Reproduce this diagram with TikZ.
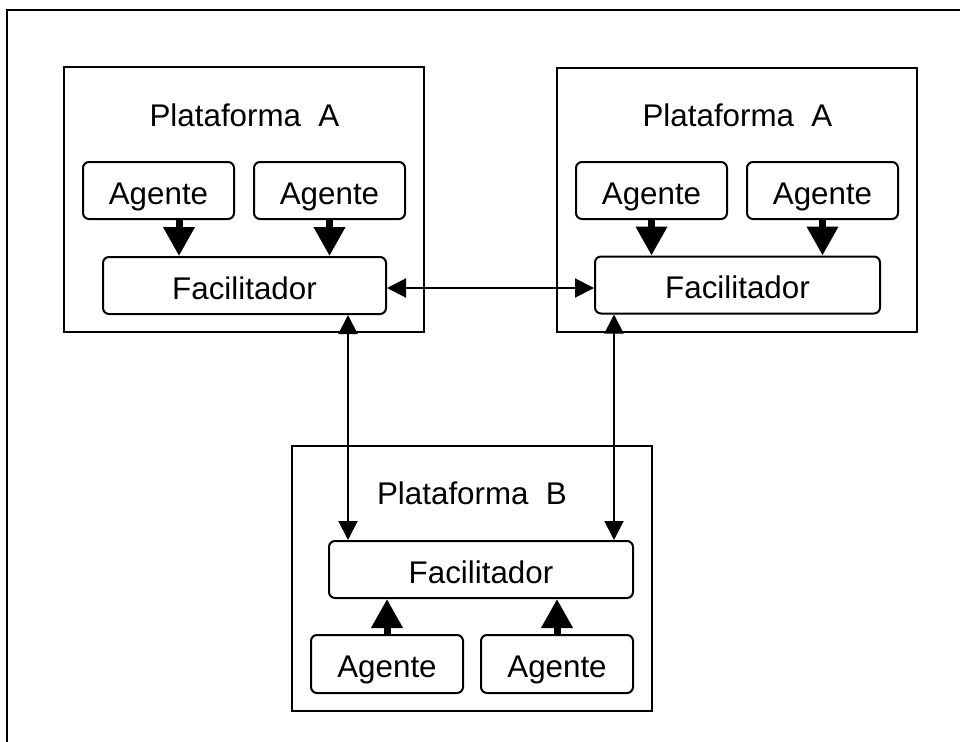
\documentclass[tikz,border=0pt]{standalone}
\usepackage{fontspec}
\setmainfont{Liberation Sans}
\usetikzlibrary{arrows.meta}
\begin{document}
\begin{tikzpicture}[x=0.75pt,y=-0.75pt,
  every node/.style={font=\fontsize{23.5}{28}\selectfont, text height=20.6pt, text depth=0pt},
  platbox/.style={draw, line width=1.5pt, minimum width=270pt, minimum height=198.75pt, inner sep=0pt},
  title/.style={inner sep=0pt, text height=16.8pt},
  agbox/.style={draw, line width=1.5pt, rounded corners=4.5pt, minimum width=113.25pt, minimum height=42.75pt},
  facbox/.style={draw, line width=1.5pt, rounded corners=4.5pt, minimum height=42.75pt},
  bigarrow/.style={line width=5.25pt, -{Triangle[width=22.5pt,length=21.75pt]}},
  link/.style={line width=1.5pt, {Triangle[width=14.25pt,length=14.25pt]}-{Triangle[width=14.25pt,length=14.25pt]}}
]
\useasboundingbox (0,0) rectangle (960,742);
% outer frame (clipped)
\coordinate (o1) at (7,742);
\coordinate (o2) at (7,10);
\coordinate (o3) at (960,10);
\draw[line width=1.5pt] (o1) -- (o2) -- (o3);

% Plataforma A (left)
\node[platbox] (pA1) at (244,199.5) {};
\node[title] (tA1) at (244.5,115) {Plataforma\ \ A};
\node[agbox] (a11) at (158.5,190.5) {Agente};
\node[agbox] (a12) at (329.5,190.5) {Agente};
\node[facbox, minimum width=212.25pt] (f1) at (244.5,285.5) {Facilitador};

% Plataforma A (right)
\node[platbox, minimum height=198pt] (pA2) at (737,200) {};
\node[title] (tA2) at (737.5,115) {Plataforma\ \ A};
\node[agbox] (a21) at (651.5,190.5) {Agente};
\node[agbox] (a22) at (822.5,190.5) {Agente};
\node[facbox, minimum width=213.75pt] (f2) at (737.5,285) {Facilitador};

% Plataforma B
\node[platbox] (pB) at (472,578.5) {};
\node[title] (tB) at (472,493) {Plataforma\ \ B};
\node[facbox, minimum width=228pt] (fB) at (481,569.5) {Facilitador};
\node[agbox, minimum width=114pt, minimum height=43.5pt] (b1) at (387,664) {Agente};
\node[agbox, minimum width=114pt, minimum height=43.5pt] (b2) at (557,664) {Agente};

% helper coordinates
\coordinate (x179) at (179,0);
\coordinate (xl) at (348,0);
\coordinate (xr) at (614,0);
\coordinate (yh) at (0,288);

% thick arrows agent -> facilitator
\draw[bigarrow] (a11.south -| x179) -- (f1.north -| x179);
\draw[bigarrow] (a12.south) -- (a12.south |- f1.north);
\draw[bigarrow] (a21.south) -- (a21.south |- f2.north);
\draw[bigarrow] (a22.south) -- (a22.south |- f2.north);
\draw[bigarrow] (b1.north) -- (b1.north |- fB.south);
\draw[bigarrow] (b2.north) -- (b2.north |- fB.south);

% links between facilitators
\draw[link] (f1.east |- yh) -- (f2.west |- yh);
\draw[link] (f1.south -| xl) -- (fB.north -| xl);
\draw[link] (f2.south -| xr) -- (fB.north -| xr);
\end{tikzpicture}
\end{document}
